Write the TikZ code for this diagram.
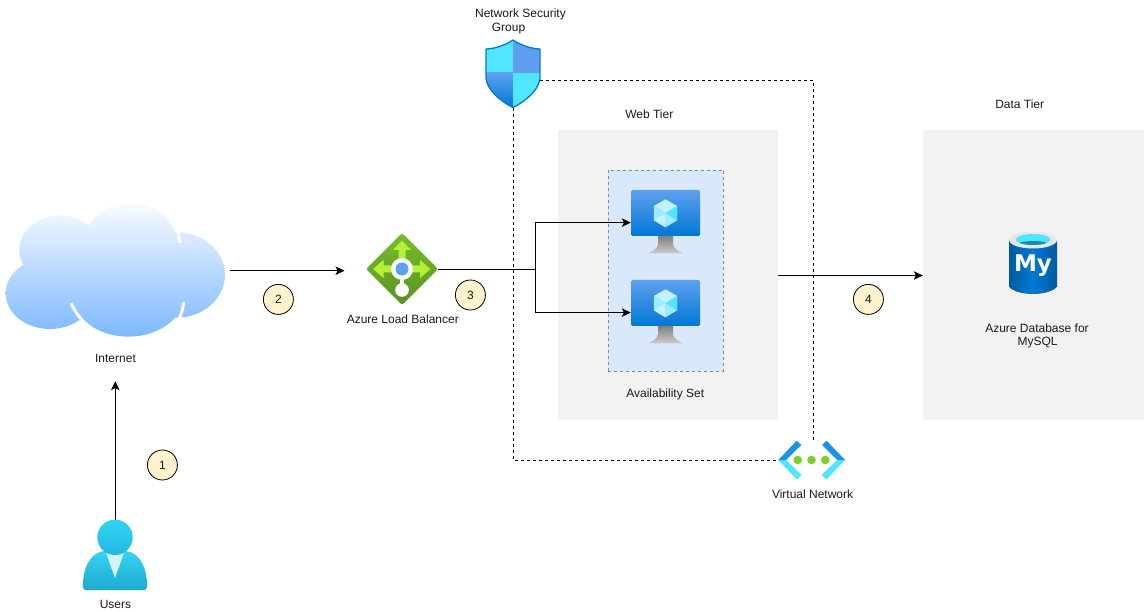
\documentclass[tikz,border=0pt]{standalone}
\usepackage{fontspec}
\setmainfont{Liberation Sans}
\newfontfamily\logofont{DejaVu Sans}
\usetikzlibrary{arrows.meta}
\definecolor{azblue}{HTML}{0078D4}
\definecolor{azmid}{HTML}{5EA0EF}
\definecolor{azcyan}{HTML}{50E6FF}
\definecolor{azpale}{HTML}{C3F1FF}
\definecolor{azlight}{HTML}{9CEBFF}
\definecolor{tierbg}{HTML}{F2F2F2}
\definecolor{setbg}{HTML}{DAE8FC}
\definecolor{setline}{HTML}{6C8EBF}
\definecolor{stepbg}{HTML}{FFF2CC}
\definecolor{txt}{HTML}{1A1A1A}
\definecolor{cloudtop}{HTML}{F8FBFF}
\definecolor{cloudlow}{RGB}{125,184,255}
\definecolor{lbtop}{RGB}{118,188,45}
\definecolor{lbbot}{RGB}{90,146,34}
\definecolor{lbarrow}{RGB}{179,240,54}
\definecolor{vnetblue}{RGB}{27,147,235}
\definecolor{vnetdot}{RGB}{127,207,43}
\definecolor{dbedge}{RGB}{0,91,161}
\definecolor{dbdeep}{RGB}{25,138,179}
\definecolor{usertop}{RGB}{50,212,245}
\definecolor{userbot}{RGB}{31,169,206}
\definecolor{usermid}{RGB}{34,185,222}
\definecolor{userv}{RGB}{208,245,255}
\tikzset{
  label text/.style={font=\fontsize{12}{14}\selectfont,text=txt,inner sep=0pt,align=center},
  tierbox/.style={fill=tierbg,draw=none,minimum width=#1,minimum height=290pt,inner sep=0pt},
  iconbox/.style={inner sep=0pt,draw=none,fill=none},
  stepmark/.style={circle,draw=black,fill=stepbg,minimum size=30pt,inner sep=0pt,line width=.8pt,font=\fontsize{12}{14}\selectfont,text=txt},
  flow/.style={draw=black,line width=1pt,-{Stealth[length=9pt,width=8.5pt,inset=2.2pt]}},
  plainflow/.style={draw=black,line width=1pt},
  secure/.style={draw=black,line width=.9pt,dash pattern=on 3pt off 3pt},
  vm/.pic={
    \shade[top color=azmid,bottom color=azblue,rounded corners=1.5pt] (-34.5,-23.3) rectangle (34.5,22.7);
    \shade[top color=black!50,bottom color=black!20]
      (-7.5,22.7) -- (7.5,22.7) -- (7.5,31) .. controls (8,36) and (14,38) .. (17.5,40) -- (-17.5,40) .. controls (-14,38) and (-8,36) .. (-7.5,31) -- cycle;
    \fill[azpale] (0,-14) -- (11.7,-7.3) -- (0,0) -- (-11.7,-7.3) -- cycle;
    \fill[azlight] (-11.7,-7.3) -- (0,0) -- (0,14) -- (-11.7,7) -- cycle;
    \fill[azlight] (11.7,-7.3) -- (0,0) -- (0,14) -- (11.7,7) -- cycle;
    \fill[azcyan] (11.7,-7.3) -- (0,0) -- (11.7,7) -- cycle;
    \fill[azpale] (0,0) -- (-11.7,7) -- (0,14) -- cycle;
  }
}
\begin{document}
\begin{tikzpicture}[x=1pt,y=-1pt]
\useasboundingbox (0,0) rectangle (1144,612);
\fill[white] (0,0) rectangle (1144,612);

% tier panels
\node[tierbox=220pt] (web) at (668,275.5) {};
\node[tierbox=221pt] (data) at (1033.5,275.5) {};
\node[draw=setline,fill=setbg,dash pattern=on 3pt off 3pt,line width=.7pt,minimum width=115.5pt,minimum height=201pt,inner sep=0pt] (avset) at (665.7,270.5) {};

% anchors for the icons
\node[iconbox,minimum width=230pt,minimum height=130pt] (cloud) at (115,270.7) {};
\node[iconbox,minimum width=72pt,minimum height=72pt] (lb) at (402,269.6) {};
\node[iconbox,minimum width=54pt,minimum height=68pt] (nsg) at (513.5,74) {};
\node[iconbox,minimum width=69pt,minimum height=46pt] (vma) at (665.5,222.6) {};
\node[iconbox,minimum width=69pt,minimum height=46pt] (vmb) at (665.5,312.6) {};
\node[iconbox,minimum width=68pt,minimum height=40pt] (vnet) at (812,460.5) {};
\node[iconbox,minimum width=64pt,minimum height=80pt] (user) at (115.3,560) {};
\node[iconbox,minimum width=90pt,minimum height=46pt] (inet) at (115.3,358) {};
\coordinate (lbin) at (344.5,270.7);
\coordinate (fork) at (535.5,269.6);
\coordinate (nsgout) at (540,80.5);
\coordinate (vnetup) at (813.5,440);
\coordinate (corner) at (813.5,80.5);

% connectors
\draw[flow] (user.north) -- (inet.south);
\draw[flow] (cloud.east) -- (lbin);
\draw[plainflow] (lb.east) -- (fork);
\draw[flow] (fork) |- (vma.west);
\draw[flow] (fork) |- (vmb.west);
\draw[flow] (web.east) -- (data.west);
\draw[secure] (nsg.south) |- (vnet.west);
\draw[secure] (nsgout) -- (corner) -- (vnetup);

% cloud
\begin{scope}[shift={(0,195)},x=.3333pt,y=-.3333pt]
  \begin{scope}
    \clip (390,160) ellipse [x radius=145,y radius=135]
          (180,165) ellipse [x radius=122,y radius=103]
          (150,295) ellipse [x radius=133,y radius=107]
          (385,295) ellipse [x radius=170,y radius=130]
          (530,240) ellipse [x radius=145,y radius=128];
    \shade[top color=cloudtop,bottom color=cloudlow] (0,25) rectangle (700,425);
  \end{scope}
  \draw[white,line width=3pt] (45,188) -- (60,208);
  \draw[white,line width=3pt] (243,64) -- (274,76);
  \draw[white,line width=3pt] (534,110) -- (540,144);
  \draw[white,line width=3pt] (213,325) .. controls (228,355) and (245,378) .. (272,398);
  \draw[white,line width=3pt] (551,322) .. controls (549,340) and (545,355) .. (537,372);
\end{scope}

% load balancer
\shade[top color=lbtop,bottom color=lbbot,rounded corners=2.5pt]
  (402,233) -- (438,269) -- (402,305) -- (366,269) -- cycle;
\fill[lbarrow]
  (402,240.5) -- (411,250) -- (405.5,250) -- (405.5,265.5) -- (420,265.5) -- (420,260) -- (430.5,269) -- (420,278) -- (420,272.5) -- (383.5,272.5) -- (383.5,278) -- (373,269) -- (383.5,260) -- (383.5,265.5) -- (398.5,265.5) -- (398.5,250) -- (393,250) -- cycle;
\fill[white] (402,269) circle [radius=11];
\fill[white] (402,290) circle [radius=6.8];
\fill[white] (399.8,275) rectangle (404.2,288);
\fill[azmid] (402,269) circle [radius=6.5];

% network security group
\begin{scope}
  \clip (513,40) .. controls (520,45) and (532,49) .. (540,49) -- (540,78) .. controls (539,90) and (526,101) .. (513,107.5) .. controls (500,101) and (487,90) .. (486,78) -- (486,49) .. controls (494,49) and (506,45) .. (513,40) -- cycle;
  \fill[azcyan] (486,40) rectangle (513,73);
  \fill[azmid] (513,40) rectangle (541,73);
  \shade[top color=azmid,bottom color=azblue] (486,73) rectangle (513,108);
  \fill[azcyan] (513,73) rectangle (541,108);
\end{scope}
\draw[azblue,line width=1.3pt,line join=round] (513,40) .. controls (520,45) and (532,49) .. (540,49) -- (540,78) .. controls (539,90) and (526,101) .. (513,107.5) .. controls (500,101) and (487,90) .. (486,78) -- (486,49) .. controls (494,49) and (506,45) .. (513,40) -- cycle;

% virtual machines
\pic at (665.5,213.3) {vm};
\pic at (665.5,303.3) {vm};

% virtual network
\fill[azcyan] (778.3,460) -- (786,460) -- (801.7,475) -- (797,479.7) -- cycle;
\fill[vnetblue] (778.3,460) -- (796.7,440.7) -- (801.3,445) -- (786,460) -- cycle;
\fill[azcyan] (845,460) -- (837.3,460) -- (821.6,475) -- (826.3,479.7) -- cycle;
\fill[vnetblue] (845,460) -- (826.6,440.7) -- (822,445) -- (837.3,460) -- cycle;
\fill[vnetdot] (797.7,460) circle [radius=4.3] (811.5,460) circle [radius=4.3] (825.3,460) circle [radius=4.3];

% database
\shade[left color=dbedge,right color=dbedge,middle color=azblue]
  (1009,240) -- (1009,286.5) .. controls (1012,291) and (1022,294) .. (1033,294) .. controls (1044,294) and (1054,291) .. (1057,286.5) -- (1057,240) -- cycle;
\fill[black!9] (1033,240) ellipse [x radius=24,y radius=8.5];
\begin{scope}
  \clip (1033,239.5) ellipse [x radius=17.5,y radius=5.5];
  \fill[azcyan] (1015,233) rectangle (1051,246);
  \fill[dbdeep] (1033,245) ellipse [x radius=16,y radius=4];
\end{scope}
\node[iconbox,text=white,font=\logofont\bfseries\fontsize{23}{23}\selectfont] (mylogo) at (1033,265.5) {My};

% user
\shade[top color=usertop,bottom color=userbot,rounded corners=2.5pt]
  (83.3,590) .. controls (82,570) and (90,553) .. (105,551) -- (125,551) .. controls (140,553) and (148,570) .. (146.7,590) -- cycle;
\fill[userv] (106,553) -- (124,553) -- (115,578) -- cycle;
\shade[top color=usertop,bottom color=usermid] (115,537.3) circle [radius=17.7];

% step marks
\node[stepmark] (s1) at (162.4,465) {1};
\node[stepmark] (s2) at (278.4,299.4) {2};
\node[stepmark] (s3) at (470.4,295) {3};
\node[stepmark] (s4) at (868.4,299.4) {4};

% labels
\node[label text] (tnsg1) at (520.5,14.8) {Network Security};
\node[label text] (tnsg2) at (508.5,28.8) {Group};
\node[label text] (tweb) at (649.3,114.4) {Web Tier};
\node[label text] (tdata) at (1019.7,104.4) {Data Tier};
\node[label text] (tinet) at (115.5,358.8) {Internet};
\node[label text] (tlb) at (402.8,319.4) {Azure Load Balancer};
\node[label text] (tset) at (665.2,394.6) {Availability Set};
\node[label text] (tdb1) at (1037,328.6) {Azure Database for};
\node[label text] (tdb2) at (1037.5,342.6) {MySQL};
\node[label text] (tvnet) at (812.6,494.4) {Virtual Network};
\node[label text] (tuser) at (115.5,604.4) {Users};
\end{tikzpicture}
\end{document}
